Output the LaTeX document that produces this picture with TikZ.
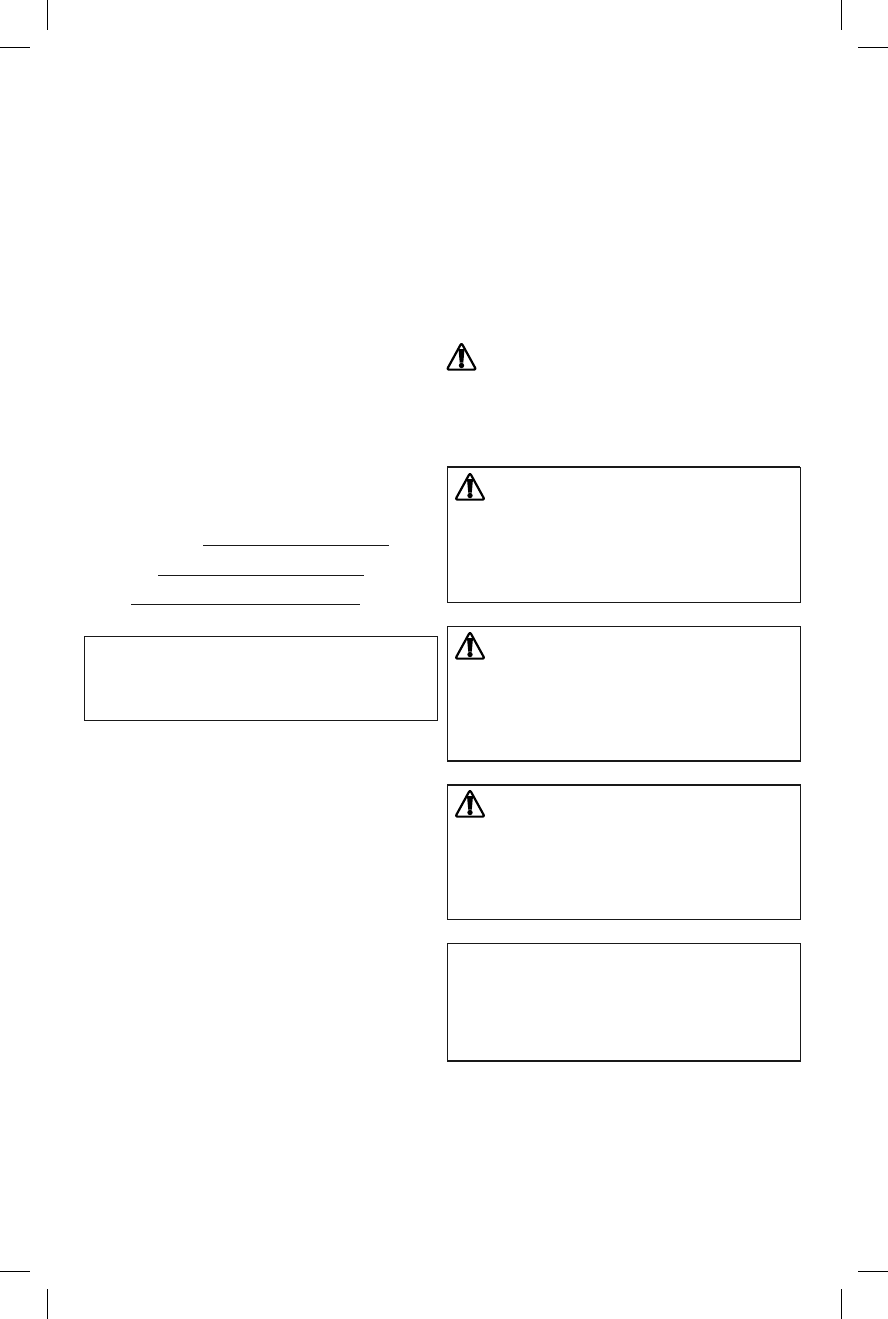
\documentclass[tikz,border=0pt]{standalone}

\tikzset{
	box/.style={draw=black!90,line width=1.3pt,minimum width=353pt,inner sep=0pt,outer sep=0pt,anchor=north west},
	heavy/.style={line width=2.1pt,black!90},
	rule/.style={line width=1.4pt,black!90},
	crop/.style={line width=1pt,black},
	warn/.pic={
		\draw[line width=2.2pt,line join=round,rounded corners=2pt] (0,-15)--(14.6,11.6)--(-14.6,11.6)--cycle;
		\fill (-3,-9) -- (3,-9) -- (1.8,4.5) -- (-1.8,4.5) -- cycle;
		\fill (0,7.5) circle (2.7pt);
	}
}

\begin{document}
\begin{tikzpicture}[x=1pt,y=-1pt]
\useasboundingbox (0,0) rectangle (888,1319);

\def\w{888}
\def\h{1319}
\def\l{30}
\def\m{47.3}

% crop marks
\foreach \x in {\m,841.7} {
	\draw[crop] (\x,0)--(\x,\l);
	\draw[crop] (\x,1289)--(\x,\h);
}
\foreach \y in {\m,1271} {
	\draw[crop] (0,\y)--(\l,\y);
	\draw[crop] (858,\y)--(\w,\y);
}

% blanks
\foreach \x/\xx/\y in {203/389/545.3,158/364/575.3,131/360/604.3} {
	\draw[rule] (\x,\y)--(\xx,\y);
}

% boxes
\node[box,minimum height=84pt] (note) at (84.5,636.4) {};
\node[box,minimum height=135pt] (caution) at (447.4,467.4) {};
\node[box,minimum height=134.5pt] (warning) at (447.4,626.4) {};
\node[box,minimum height=134.5pt] (danger) at (447.4,784.7) {};
\node[box,minimum height=117.7pt] (notice) at (447.4,943.2) {};

\draw[heavy] (caution.north west)--(caution.north east);
\draw[heavy] (warning.south west)--(warning.south east);
\draw[heavy] (danger.north west)--(danger.north east);
\draw[heavy] (notice.south west)--(notice.south east);

% icons
\pic at (461.5,358) {warn};
\pic at (470,488) {warn};
\pic at (470,647) {warn};
\pic at (470,805) {warn};

\end{tikzpicture}
\end{document}
